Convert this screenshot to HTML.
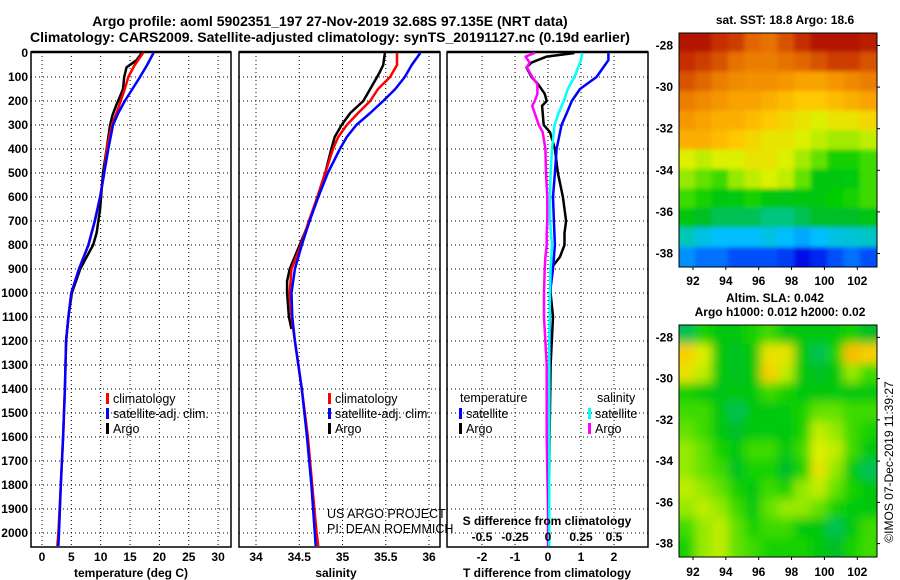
<!DOCTYPE html>
<html><head><meta charset="utf-8">
<style>
html,body{margin:0;padding:0;background:#fff;}
svg{display:block;font-family:"Liberation Sans",sans-serif;}
.b{font-weight:bold;font-size:12px;}
.t{font-weight:bold;font-size:14px;}
.lg{font-size:12.5px;}
.grid{stroke:#000;stroke-width:1;stroke-dasharray:1,3;}
</style></head>
<body>
<svg id="c" width="900" height="580" viewBox="0 0 900 580">
<text class="t" x="330" y="26" text-anchor="middle">Argo profile: aoml 5902351_197 27-Nov-2019 32.68S 97.135E (NRT data)</text>
<text class="t" x="330" y="42" text-anchor="middle">Climatology: CARS2009. Satellite-adjusted climatology: synTS_20191127.nc (0.19d earlier)</text>
<text class="b" x="785" y="24" text-anchor="middle">sat. SST: 18.8 Argo: 18.6</text>
<text class="b" x="775" y="302" text-anchor="middle">Altim. SLA: 0.042</text>
<text class="b" x="780" y="316" text-anchor="middle">Argo h1000: 0.012 h2000: 0.02</text>
<text x="893" y="462" font-size="12" text-anchor="middle" transform="rotate(-90 893 462)">©IMOS 07-Dec-2019 11:39:27</text>
<g id="plots"></g>
</svg>
<script>
// ---- data ----
const tempDepth = [0,50,100,150,200,250,300,400,500,600,700,800,900,1000,1100,1200,1400,1600,1800,2000,2054];
const tempSat   = [19.0,17.9,16.7,15.4,14.1,13.0,12.1,11.3,10.6,9.9,9.0,7.9,6.3,5.0,4.5,4.1,3.9,3.6,3.2,2.9,2.8];
const tempClim  = [17.2,15.8,14.7,14.1,13.4,12.7,11.9,11.0,10.6,9.9,9.0,7.9,6.3,5.0,4.5,4.1,3.9,3.6,3.2,2.8,2.6];
const argoTDepth = [0,30,60,100,150,180,220,260,300,400,500,650,750,800,850,900,1000,1100,1200];
const argoT      = [17.0,16.1,14.4,14.0,13.8,13.3,12.6,12.0,11.6,11.0,10.4,9.9,9.3,8.7,7.6,6.5,5.1,4.5,4.1];

const salDepth = [0,50,100,150,200,250,300,350,400,500,600,700,800,900,1000,1100,1200,1400,1600,1800,2000,2054];
const salSat   = [35.90,35.80,35.72,35.61,35.47,35.32,35.16,35.05,34.97,34.83,34.72,34.62,34.53,34.45,34.41,34.42,34.45,34.53,34.59,34.64,34.68,34.69];
const salClim  = [35.63,35.63,35.55,35.41,35.32,35.18,35.05,34.95,34.89,34.80,34.71,34.61,34.52,34.41,34.39,34.41,34.45,34.53,34.60,34.65,34.70,34.72];
const argoSDepth = [0,50,80,100,150,200,250,300,350,400,500,700,900,950,1000,1100,1150];
const argoS      = [35.49,35.47,35.43,35.40,35.32,35.24,35.09,34.99,34.91,34.87,34.80,34.62,34.39,34.36,34.36,34.38,34.41];

const diffDepth = [0,30,100,150,200,250,300,400,500,600,700,800,900,1000,1200,1500,1800,2054];
const dTsat     = [1.83,1.83,1.47,0.97,0.72,0.57,0.41,0.26,0.21,0.15,0.18,0.21,0.15,0.06,0.05,0.04,0.03,0.03];
const dSsat     = [0.26,0.25,0.20,0.15,0.12,0.08,0.05,0.03,0.02,0.015,0.015,0.03,0.02,0.015,0.01,0.01,0.01,0.01];
const dArgoDepth = [0,15,40,60,100,130,170,200,220,300,330,400,500,600,700,750,800,850,900,1000,1100,1300,1600,1900,2054];
const dTargo     = [0.8,-0.04,-0.5,-0.65,-0.5,-0.3,-0.1,-0.04,-0.18,-0.13,0.06,0.21,0.3,0.45,0.55,0.5,0.5,0.36,0.08,0.08,0.15,0.08,0.05,0.03,0.02];
const dSargo     = [-0.10,-0.17,-0.14,-0.16,-0.12,-0.08,-0.08,-0.10,-0.12,-0.07,-0.04,-0.02,-0.015,-0.005,-0.005,-0.01,-0.01,-0.02,-0.025,-0.03,-0.03,-0.01,-0.01,0.0,0.0];

const depthTicks = [0,100,200,300,400,500,600,700,800,900,1000,1100,1200,1300,1400,1500,1600,1700,1800,1900,2000];
const tempTicks = [0,5,10,15,20,25,30];
const salTicks = [34,34.5,35,35.5,36];
const salTickLabels = ["34","34.5","35","35.5","36"];
const dTTicks = [-2,-1,0,1,2];
const dSTicks = [-0.5,-0.25,0,0.25,0.5];
const dSTickLabels = ["-0.5","-0.25","0","0.25","0.5"];
const latTicks = [-28,-30,-32,-34,-36,-38];
const lonTicks = [92,94,96,98,100,102];

const sstGrid = [
[0.95,0.95,0.9,0.88,0.82,0.8,0.85,0.9,0.95,0.95,0.95,0.93],
[0.9,0.88,0.85,0.8,0.78,0.78,0.8,0.82,0.85,0.88,0.88,0.85],
[0.85,0.82,0.78,0.76,0.75,0.75,0.74,0.72,0.72,0.74,0.76,0.78],
[0.78,0.76,0.74,0.72,0.72,0.7,0.68,0.66,0.66,0.68,0.7,0.72],
[0.74,0.72,0.7,0.7,0.68,0.66,0.64,0.62,0.6,0.62,0.62,0.64],
[0.7,0.7,0.68,0.66,0.64,0.62,0.62,0.6,0.58,0.56,0.56,0.58],
[0.6,0.58,0.6,0.6,0.62,0.62,0.6,0.56,0.52,0.48,0.48,0.5],
[0.55,0.52,0.5,0.55,0.58,0.6,0.58,0.52,0.45,0.45,0.46,0.5],
[0.5,0.48,0.45,0.46,0.48,0.45,0.44,0.45,0.45,0.47,0.48,0.5],
[0.45,0.42,0.4,0.4,0.4,0.38,0.38,0.4,0.42,0.42,0.42,0.44],
[0.35,0.32,0.3,0.3,0.3,0.32,0.3,0.28,0.3,0.32,0.33,0.34],
[0.26,0.23,0.23,0.2,0.2,0.2,0.18,0.13,0.16,0.2,0.23,0.2]];
const slaGrid = [
[0.4,0.48,0.45,0.45,0.48,0.5,0.45,0.45,0.45,0.45,0.48,0.42],
[0.65,0.6,0.45,0.43,0.45,0.62,0.62,0.45,0.4,0.48,0.68,0.65],
[0.62,0.58,0.45,0.43,0.45,0.65,0.58,0.45,0.43,0.45,0.55,0.5],
[0.48,0.45,0.44,0.45,0.45,0.5,0.48,0.45,0.45,0.46,0.45,0.45],
[0.5,0.5,0.45,0.4,0.45,0.45,0.46,0.48,0.52,0.52,0.5,0.5],
[0.52,0.5,0.45,0.42,0.45,0.46,0.45,0.48,0.58,0.55,0.5,0.48],
[0.55,0.52,0.48,0.45,0.5,0.5,0.45,0.5,0.6,0.58,0.5,0.45],
[0.55,0.52,0.5,0.43,0.48,0.48,0.42,0.48,0.62,0.55,0.46,0.4],
[0.58,0.55,0.52,0.48,0.45,0.5,0.48,0.55,0.58,0.52,0.48,0.45],
[0.55,0.58,0.55,0.5,0.45,0.52,0.55,0.55,0.52,0.48,0.46,0.45],
[0.5,0.55,0.58,0.52,0.48,0.5,0.5,0.45,0.45,0.4,0.45,0.5],
[0.48,0.55,0.58,0.52,0.5,0.48,0.48,0.48,0.45,0.42,0.48,0.5]];

// ---- helpers ----
const NS="http://www.w3.org/2000/svg";
const root=document.getElementById('plots');
function mk(tag,attrs,parent){const e=document.createElementNS(NS,tag);for(const k in attrs)e.setAttribute(k,attrs[k]);(parent||root).appendChild(e);return e;}
function txt(s,x,y,cls,anchor,parent){const e=mk('text',{x:x,y:y,class:cls||'b','text-anchor':anchor||'middle'},parent);e.textContent=s;return e;}

const Y0=53, YS=0.24, YBOT=547, YTOP=52;
const yD=d=>Y0+d*YS;
const xT=v=>42+5.87*v;
const xS=v=>256+86.5*(v-34);
const xDT=v=>548+33*v;
const xDS=v=>548+132*v;

function frame(x0,x1,name){
  const g=mk('g',{});
  
  
  return g;
}
function gridAndFrame(g,x0,x1,xs){
  depthTicks.forEach(d=>{ if(d>0){const l=mk('line',{x1:x0,x2:x1,y1:yD(d),y2:yD(d),class:'grid'},g);
    
    }});
  xs.forEach(x=>{const l=mk('line',{x1:x,x2:x,y1:YTOP,y2:YBOT,class:'grid'},g);
    
    });
  const r=mk('rect',{x:x0,y:YTOP,width:x1-x0,height:YBOT-YTOP,fill:'none',stroke:'#000','stroke-width':1.5},g);
  
  
  mk('line',{x1:x0,x2:x1,y1:YTOP,y2:YTOP,stroke:'#000','stroke-width':2.5},g);
}
function line(g,depths,vals,xf,color,name,w){
  const pts=depths.map((d,i)=>xf(vals[i]).toFixed(1)+','+yD(d).toFixed(1)).join(' ');
  const p=mk('polyline',{points:pts,fill:'none',stroke:color,'stroke-width':w||2.5,'stroke-linejoin':'round'},g);
  
  
}
function legend(g,x,y,color,label,name){
  const r=mk('rect',{x:x,y:y-10,width:3,height:11,fill:color},g);
  
  
  const t=txt(label,x+7,y,'lg','start',g);
  
  
}

depthTicks.forEach(d=>{const t=txt(String(d),28,yD(d)+4,'b','end');
  
  });

// ---- temperature panel ----
const g1=frame(31,231,'temperature-panel');
gridAndFrame(g1,31,231,tempTicks.map(xT));
line(g1,argoTDepth,argoT,xT,'#000','argo-temp-line');
line(g1,tempDepth,tempClim,xT,'#f00','clim-temp-line');
line(g1,tempDepth,tempSat,xT,'#00f','sat-temp-line');
tempTicks.forEach(v=>{const t=txt(String(v),xT(v),561,'b','middle',g1);
  
  });
const a1=txt('temperature (deg C)',131,577,'b','middle',g1);


legend(g1,106,403,'#f00','climatology','legend-climatology');
legend(g1,106,418,'#00f','satellite-adj. clim.','legend-satellite-adj');
legend(g1,106,433,'#000','Argo','legend-argo');

// ---- salinity panel ----
const g2=frame(239,440,'salinity-panel');
gridAndFrame(g2,239,440,salTicks.map(xS));
line(g2,argoSDepth,argoS,xS,'#000','argo-sal-line');
line(g2,salDepth,salClim,xS,'#f00','clim-sal-line');
line(g2,salDepth,salSat,xS,'#00f','sat-sal-line');
salTicks.forEach((v,i)=>{const t=txt(salTickLabels[i],xS(v),561,'b','middle',g2);
  
  });
const a2=txt('salinity',336,577,'b','middle',g2);


legend(g2,328,403,'#f00','climatology','legend-climatology-sal');
legend(g2,328,418,'#00f','satellite-adj. clim.','legend-satellite-adj-sal');
legend(g2,328,433,'#000','Argo','legend-argo-sal');
const p1=txt('US ARGO PROJECT',327,518,'lg','start',g2);


const p2=txt('PI: DEAN ROEMMICH',327,533,'lg','start',g2);



// ---- difference panel ----
const g3=frame(447,648,'difference-panel');
gridAndFrame(g3,447,648,dTTicks.map(xDT));
line(g3,dArgoDepth,dTargo,xDT,'#000','argo-temp-diff-line');
line(g3,dArgoDepth,dSargo,xDS,'#f0f','argo-sal-diff-line');
line(g3,diffDepth,dTsat,xDT,'#00f','sat-temp-diff-line');
line(g3,diffDepth,dSsat,xDS,'#0ff','sat-sal-diff-line');
dTTicks.forEach(v=>{const t=txt(String(v),xDT(v),561,'b','middle',g3);
  
  });
dSTicks.forEach((v,i)=>{const t=txt(dSTickLabels[i],xDS(v),541,'b','middle',g3);
  
  });
const a3=txt('T difference from climatology',547,577,'b','middle',g3);


const a4=txt('S difference from climatology',547,525,'b','middle',g3);


const lt=txt('temperature',460,402,'lg','start',g3);


const ls=txt('salinity',597,402,'lg','start',g3);


legend(g3,459,418,'#00f','satellite','legend-temp-satellite');
legend(g3,459,433,'#000','Argo','legend-temp-argo');
legend(g3,588,418,'#0ff','satellite','legend-sal-satellite');
legend(g3,588,433,'#f0f','Argo','legend-sal-argo');

// ---- maps ----
const cmapStops=[[0,0,0,130],[0.12,0,0,230],[0.22,0,100,255],[0.3,0,190,255],[0.36,0,200,170],[0.42,0,190,40],[0.47,0,205,0],[0.53,120,230,0],[0.6,220,240,0],[0.66,255,200,0],[0.74,245,150,0],[0.84,220,90,0],[0.92,190,30,0],[1,160,0,0]];
function cmap(v){
  v=Math.max(0,Math.min(1,v));
  for(let i=1;i<cmapStops.length;i++){
    const a=cmapStops[i-1],b=cmapStops[i];
    if(v<=b[0]){const f=(v-a[0])/(b[0]-a[0]);
      return 'rgb('+Math.round(a[1]+f*(b[1]-a[1]))+','+Math.round(a[2]+f*(b[2]-a[2]))+','+Math.round(a[3]+f*(b[3]-a[3]))+')';}
  }
  return 'rgb(160,0,0)';
}
function map(grid,x0,y0,x1,y1,name,latTop,latBot,lonLabelY,blur){
  const g=mk('g',{});
  
  
  const cid=name+'-clip';
  const cp=mk('clipPath',{id:cid},g);mk('rect',{x:x0,y:y0,width:x1-x0,height:y1-y0},cp);
  const cells=mk('g',{'clip-path':'url(#'+cid+')'},g);
  if(blur){const f=mk('filter',{id:name+'-blur',x:'-10%',y:'-10%',width:'120%',height:'120%'},g);mk('feGaussianBlur',{stdDeviation:blur},f);}
  const inner=mk('g',blur?{filter:'url(#'+name+'-blur)'}:{},cells);
  const rows=grid.length,cols=grid[0].length,cw=(x1-x0)/cols,ch=(y1-y0)/rows,pad=15;
  grid.forEach((row,i)=>row.forEach((v,j)=>{
    let rx=x0+j*cw-0.5, ry=y0+i*ch-0.5, rw=cw+1, rh=ch+1;
    if(j===0){rx-=pad;rw+=pad;}
    if(j===cols-1){rw+=pad;}
    if(i===0){ry-=pad;rh+=pad;}
    if(i===rows-1){rh+=pad;}
    const r=mk('rect',{x:rx.toFixed(1),y:ry.toFixed(1),width:rw.toFixed(1),height:rh.toFixed(1),fill:cmap(v)},inner);
    
    
  }));
  mk('rect',{x:x0,y:y0,width:x1-x0,height:y1-y0,fill:'none',stroke:'#000','stroke-width':1},g);
  const yL=lat=>y0+(lat-latTop)/(latBot-latTop)*(y1-y0);
  const xL=lon=>x0+(lon-91.15)/(103.2-91.15)*(x1-x0);
  latTicks.forEach(l=>{const t=txt(String(l),x0-6,yL(l)+4,'b','end',g);
    
    
    mk('line',{x1:x1,x2:x1+3,y1:yL(l),y2:yL(l),stroke:'#000'},g);});
  lonTicks.forEach(l=>{const t=txt(String(l),xL(l),lonLabelY,'b','middle',g);
    
    
    mk('line',{x1:xL(l),x2:xL(l),y1:y1,y2:y1+3,stroke:'#000'},g);});
}
map(sstGrid,679,33,877,267,'sst-map',-27.4,-38.65,285,2);
map(slaGrid,679,325,877,557,'sla-map',-27.4,-38.65,576,5);
</script>
</body></html>
